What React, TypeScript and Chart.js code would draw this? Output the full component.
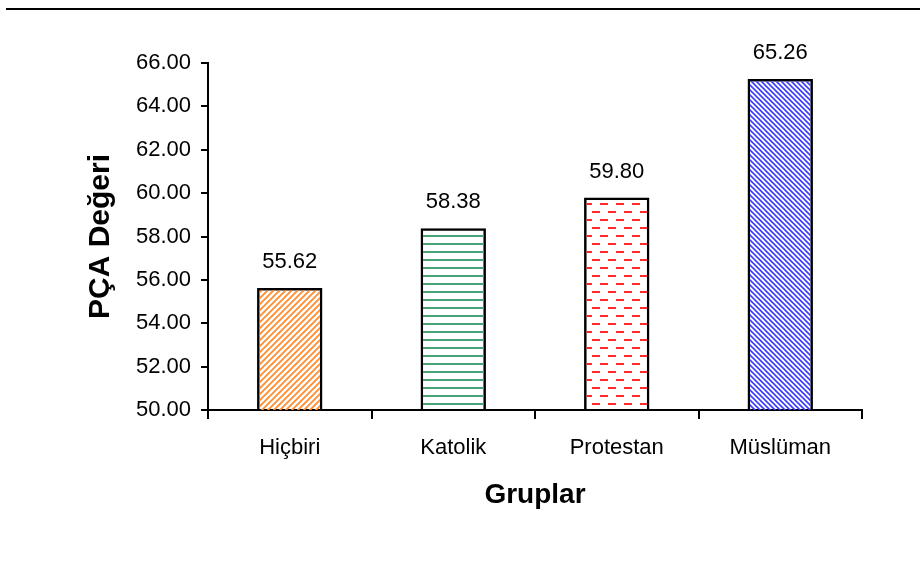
import React, { useEffect, useRef } from "react";
import { Chart, registerables } from "chart.js";

Chart.register(...registerables);

const categories = ["Hiçbiri", "Katolik", "Protestan", "Müslüman"];
const values = [55.62, 58.38, 59.8, 65.26];
const yMin = 50;
const yMax = 66;
const yStep = 2;
const yTitle = "PÇA Değeri";
const xTitle = "Gruplar";

function makePattern(kind: string): CanvasPattern | string {
  const c = document.createElement("canvas");
  const ctx = c.getContext("2d")!;
  if (kind === "fslash") {
    const s = 6;
    c.width = s; c.height = s;
    ctx.strokeStyle = "#ff8c2e";
    ctx.lineWidth = 1.8;
    ctx.beginPath();
    ctx.moveTo(0, s); ctx.lineTo(s, 0);
    ctx.moveTo(-1, 1); ctx.lineTo(1, -1);
    ctx.moveTo(s - 1, s + 1); ctx.lineTo(s + 1, s - 1);
    ctx.stroke();
  } else if (kind === "bslash") {
    const s = 5;
    c.width = s; c.height = s;
    ctx.strokeStyle = "#3b3bff";
    ctx.lineWidth = 1.6;
    ctx.beginPath();
    ctx.moveTo(0, 0); ctx.lineTo(s, s);
    ctx.moveTo(-1, s - 1); ctx.lineTo(1, s + 1);
    ctx.moveTo(s - 1, -1); ctx.lineTo(s + 1, 1);
    ctx.stroke();
  } else if (kind === "hlines") {
    c.width = 8; c.height = 8;
    ctx.fillStyle = "#4aa378";
    ctx.fillRect(0, 3, 8, 2);
  } else if (kind === "dashes") {
    c.width = 16; c.height = 16;
    ctx.fillStyle = "#ff2a2a";
    ctx.fillRect(0, 3, 8, 2);
    ctx.fillRect(8, 11, 8, 2);
  }
  return ctx.createPattern(c, "repeat")!;
}

const overlayPlugin = {
  id: "overlay",
  afterDraw(chart: any) {
    const { ctx } = chart;
    ctx.save();
    ctx.fillStyle = "#000";
    ctx.fillRect(6, 8, 914, 2);
    const meta = chart.getDatasetMeta(0);
    ctx.font = "22px 'Liberation Sans', Arial, sans-serif";
    ctx.textAlign = "center";
    ctx.textBaseline = "middle";
    meta.data.forEach((bar: any, i: number) => {
      ctx.fillText(values[i].toFixed(2), bar.x, bar.y - 26);
    });
    ctx.restore();
  },
};

export default function App() {
  const ref = useRef<HTMLCanvasElement>(null);
  useEffect(() => {
    document.body.style.margin = "0";
    const patterns = [
      makePattern("fslash"),
      makePattern("hlines"),
      makePattern("dashes"),
      makePattern("bslash"),
    ];
    const chart = new Chart(ref.current!, {
      type: "bar",
      data: {
        labels: categories,
        datasets: [
          {
            data: values,
            backgroundColor: patterns as any,
            borderColor: "#000",
            borderWidth: 2.5,
            borderSkipped: false,
            barPercentage: 0.5,
            categoryPercentage: 0.8,
          },
        ],
      },
      options: {
        animation: false,
        responsive: false,
        events: [],
        layout: { padding: { top: 63, right: 58, left: 0, bottom: 0 } },
        plugins: { legend: { display: false }, tooltip: { enabled: false } },
        scales: {
          x: {
            afterFit: (s: any) => { s.height = 164; },
            grid: {
              offset: true,
              drawOnChartArea: false,
              drawTicks: true,
              tickLength: 9,
              color: "#000",
              lineWidth: 2,
            },
            border: { display: true, color: "#000", width: 2 },
            ticks: {
              color: "#000",
              font: { family: "'Liberation Sans', Arial, sans-serif", size: 22 },
              padding: 16,
            },
            title: {
              display: true,
              text: xTitle,
              color: "#000",
              font: { family: "'Liberation Sans', Arial, sans-serif", size: 28, weight: "bold" },
              padding: { top: 0, bottom: 62 },
            },
          },
          y: {
            min: yMin,
            max: yMax,
            afterFit: (s: any) => { s.width = 208; },
            grid: {
              drawOnChartArea: false,
              drawTicks: true,
              tickLength: 7,
              color: "#000",
              lineWidth: 2,
            },
            border: { display: true, color: "#000", width: 2 },
            ticks: {
              stepSize: yStep,
              color: "#000",
              padding: 10,
              font: { family: "'Liberation Sans', Arial, sans-serif", size: 22 },
              callback: (v: any) => Number(v).toFixed(2),
            },
            title: {
              display: true,
              text: yTitle,
              color: "#000",
              font: { family: "'Liberation Sans', Arial, sans-serif", size: 30, weight: "bold" },
              padding: { top: 83, bottom: 0 },
            },
          },
        },
      },
      plugins: [overlayPlugin],
    });
    return () => chart.destroy();
  }, []);
  return (
    <div style={{ width: 920, height: 574, background: "#fff" }}>
      <canvas ref={ref} width={920} height={574} style={{ display: "block" }} />
    </div>
  );
}
